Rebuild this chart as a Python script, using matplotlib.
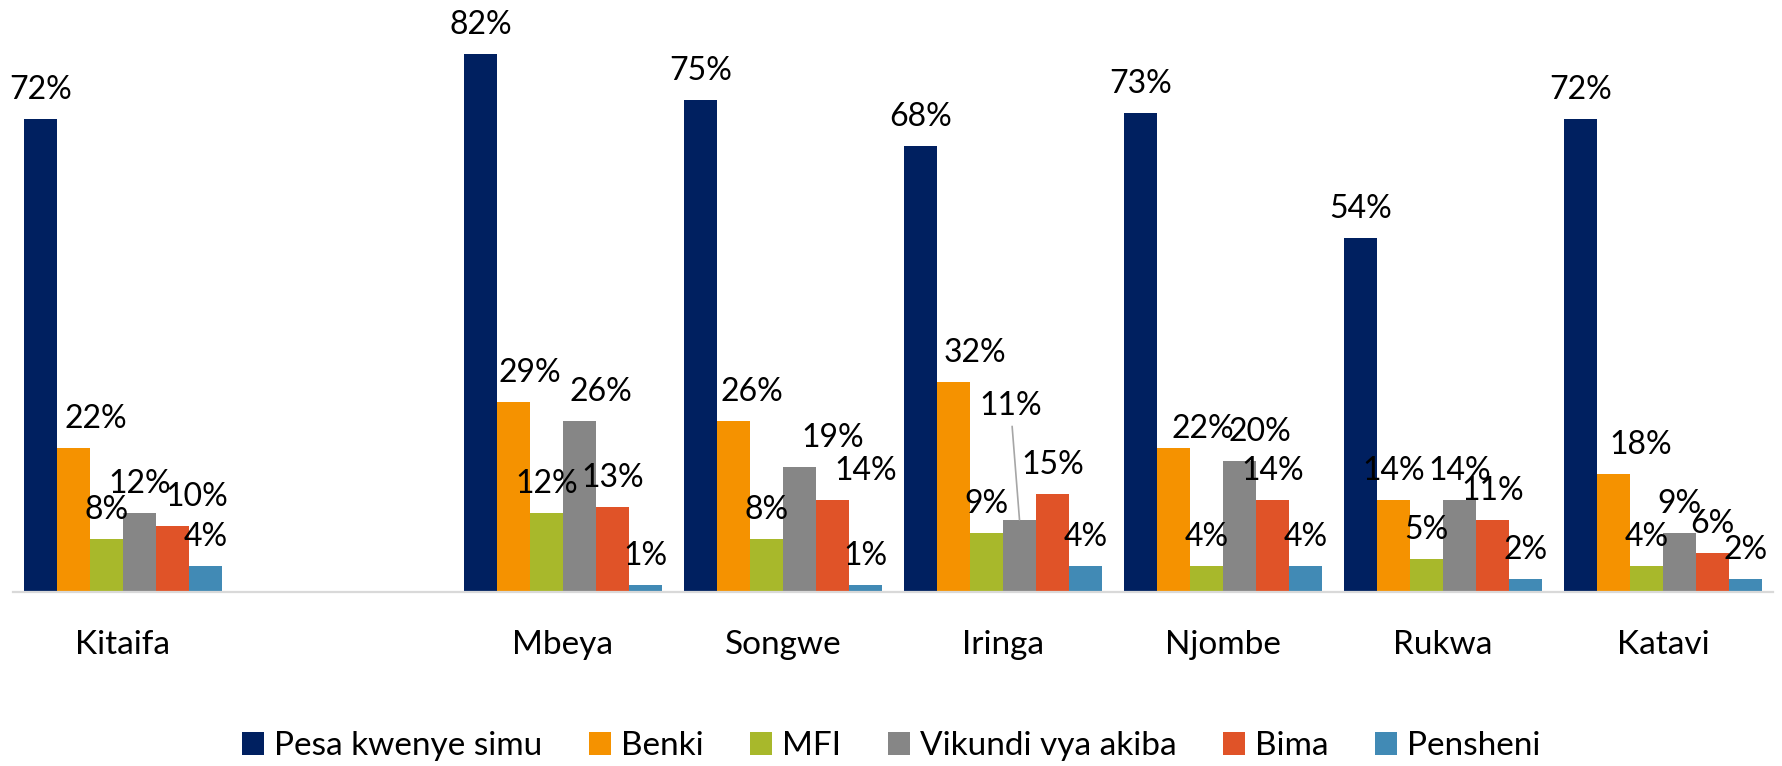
import numpy as np
import matplotlib
matplotlib.use("Agg")
import matplotlib.pyplot as plt

plt.rcParams['font.family'] = ['Lato', 'DejaVu Sans']

# data (percent); empty slot between Kitaifa and Mbeya
categories = ['Kitaifa', '', 'Mbeya', 'Songwe', 'Iringa', 'Njombe', 'Rukwa', 'Katavi']
series = ['Pesa kwenye simu', 'Benki', 'MFI', 'Vikundi vya akiba', 'Bima', 'Pensheni']
pesa = [72, np.nan, 82, 75, 68, 73, 54, 72]
benki = [22, np.nan, 29, 26, 32, 22, 14, 18]
mfi = [8, np.nan, 12, 8, 9, 4, 5, 4]
vikundi = [12, np.nan, 26, 19, 11, 20, 14, 9]
bima = [10, np.nan, 13, 14, 15, 14, 11, 6]
pensheni = [4, np.nan, 1, 1, 4, 4, 2, 2]
colors = ['#002060', '#F59200', '#A8B82B', '#868686', '#E05328', '#418AB5']

# manual nudges of some labels (pixels), like moved labels in the original
nudges = {
    ('Kitaifa', 1): (22, 0), ('Kitaifa', 4): (24, 0),
    ('Mbeya', 1): (16, 0), ('Mbeya', 3): (21, 0),
    ('Songwe', 1): (18, 0), ('Songwe', 3): (33, 0), ('Songwe', 4): (33, 0),
    ('Iringa', 1): (21, 0), ('Iringa', 3): (-9, 85),
    ('Njombe', 1): (29, -10), ('Njombe', 3): (20, 0),
    ('Katavi', 1): (27, 0),
}
leader = {('Iringa', 3)}

all_vals = [pesa, benki, mfi, vikundi, bima, pensheni]

fig = plt.figure(figsize=(17.83, 7.66), dpi=100)
ax = fig.add_axes([13 / 1783, 1 - 592 / 766, 1760 / 1783, 592 / 766])

x = np.arange(len(categories))
w = 0.15
handles = []
for j, (name, vals, c) in enumerate(zip(series, all_vals, colors)):
    pos = x + (j - 2.5) * w
    b = ax.bar(pos, vals, width=w, color=c, label=name)
    handles.append(b)
    for cat, px, v in zip(categories, pos, vals):
        if np.isnan(v):
            continue
        dx, dy = nudges.get((cat, j), (0, 0))
        kw = {}
        if (cat, j) in leader:
            kw['arrowprops'] = dict(arrowstyle='-', color='#A6A6A6', lw=1.2,
                                    shrinkA=2, shrinkB=0)
        ax.annotate(f'{v:.0f}%', xy=(px, v), xytext=(dx, 20 + dy),
                    textcoords='offset pixels', ha='center', va='baseline',
                    fontsize=23, color='black', **kw)

ax.set_xlim(-0.5, len(categories) - 0.5)
ax.set_ylim(0, 90.2)
ax.set_xticks(x, categories, fontsize=24)
ax.tick_params(axis='x', length=0, pad=27)
ax.set_yticks([])
for s in ['top', 'left', 'right']:
    ax.spines[s].set_visible(False)
ax.spines['bottom'].set_color('#D9D9D9')
ax.spines['bottom'].set_linewidth(1.6)

fig.legend(handles, series, loc='center', bbox_to_anchor=(0.5, 1 - 746 / 766),
           ncol=6, frameon=False, fontsize=24, handlelength=0.66,
           handleheight=0.66, handletextpad=0.3, columnspacing=1.4)

fig.savefig('out.png', dpi=100)
